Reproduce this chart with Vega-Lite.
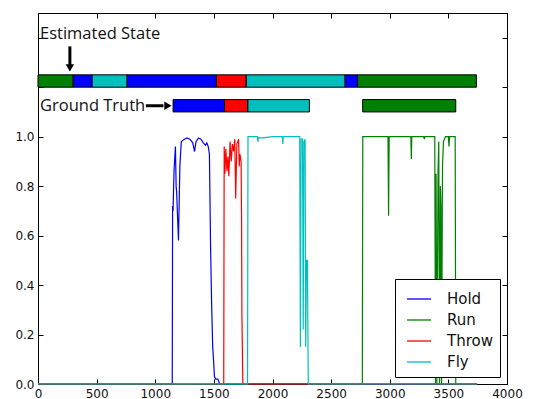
{
  "$schema": "https://vega.github.io/schema/vega-lite/v6.json",
  "width": 469,
  "height": 371,
  "autosize": {"type": "none"},
  "padding": {"left": 38, "top": 13, "right": 26, "bottom": 15},
  "background": "white",
  "config": {
    "view": {"stroke": "black", "strokeWidth": 1},
    "axis": {
      "grid": false,
      "domain": false,
      "title": null,
      "labelFont": "DejaVu Sans",
      "labelFontSize": 12,
      "labelColor": "#111111",
      "tickColor": "black",
      "tickSize": -5,
      "labelOverlap": false,
      "labelFlush": false
    }
  },
  "datasets": {
    "bars": [
      {"row": "Estimated", "state": "Run", "start": 0, "end": 300, "lo": 1.2, "hi": 1.25},
      {"row": "Estimated", "state": "Hold", "start": 300, "end": 462, "lo": 1.2, "hi": 1.25},
      {"row": "Estimated", "state": "Fly", "start": 462, "end": 760, "lo": 1.2, "hi": 1.25},
      {"row": "Estimated", "state": "Hold", "start": 760, "end": 1521, "lo": 1.2, "hi": 1.25},
      {"row": "Estimated", "state": "Throw", "start": 1521, "end": 1776, "lo": 1.2, "hi": 1.25},
      {"row": "Estimated", "state": "Fly", "start": 1776, "end": 2619, "lo": 1.2, "hi": 1.25},
      {"row": "Estimated", "state": "Hold", "start": 2619, "end": 2726, "lo": 1.2, "hi": 1.25},
      {"row": "Estimated", "state": "Run", "start": 2726, "end": 3739, "lo": 1.2, "hi": 1.25},
      {"row": "Ground Truth", "state": "Hold", "start": 1152, "end": 1591, "lo": 1.1, "hi": 1.15},
      {"row": "Ground Truth", "state": "Throw", "start": 1591, "end": 1790, "lo": 1.1, "hi": 1.15},
      {"row": "Ground Truth", "state": "Fly", "start": 1790, "end": 2315, "lo": 1.1, "hi": 1.15},
      {"row": "Ground Truth", "state": "Run", "start": 2769, "end": 3563, "lo": 1.1, "hi": 1.15}
    ],
    "lines": [
      {"state": "Hold", "t": 0, "p": 0},
      {"state": "Hold", "t": 1145, "p": 0},
      {"state": "Hold", "t": 1148, "p": 0.72},
      {"state": "Hold", "t": 1152, "p": 0.7},
      {"state": "Hold", "t": 1160, "p": 0.86},
      {"state": "Hold", "t": 1172, "p": 0.96},
      {"state": "Hold", "t": 1178, "p": 0.8},
      {"state": "Hold", "t": 1182, "p": 0.78},
      {"state": "Hold", "t": 1198, "p": 0.58},
      {"state": "Hold", "t": 1210, "p": 0.88},
      {"state": "Hold", "t": 1222, "p": 0.98},
      {"state": "Hold", "t": 1235, "p": 0.985},
      {"state": "Hold", "t": 1250, "p": 0.99},
      {"state": "Hold", "t": 1270, "p": 0.995},
      {"state": "Hold", "t": 1295, "p": 0.99},
      {"state": "Hold", "t": 1320, "p": 0.975},
      {"state": "Hold", "t": 1335, "p": 0.94},
      {"state": "Hold", "t": 1348, "p": 0.98},
      {"state": "Hold", "t": 1368, "p": 0.995},
      {"state": "Hold", "t": 1390, "p": 0.99},
      {"state": "Hold", "t": 1410, "p": 0.975},
      {"state": "Hold", "t": 1428, "p": 0.965},
      {"state": "Hold", "t": 1440, "p": 0.975},
      {"state": "Hold", "t": 1452, "p": 0.96},
      {"state": "Hold", "t": 1462, "p": 0.93},
      {"state": "Hold", "t": 1472, "p": 0.55},
      {"state": "Hold", "t": 1482, "p": 0.3},
      {"state": "Hold", "t": 1490, "p": 0.15},
      {"state": "Hold", "t": 1493, "p": 0.13},
      {"state": "Hold", "t": 1505, "p": 0.03},
      {"state": "Hold", "t": 1515, "p": 0.02},
      {"state": "Hold", "t": 1534, "p": 0.02},
      {"state": "Hold", "t": 1549, "p": 0},
      {"state": "Hold", "t": 3745, "p": 0},
      {"state": "Run", "t": 0, "p": 0},
      {"state": "Run", "t": 2766, "p": 0},
      {"state": "Run", "t": 2770, "p": 1.0},
      {"state": "Run", "t": 2985, "p": 1.0},
      {"state": "Run", "t": 2990, "p": 0.68},
      {"state": "Run", "t": 2995, "p": 1.0},
      {"state": "Run", "t": 3180, "p": 1.0},
      {"state": "Run", "t": 3184, "p": 0.91},
      {"state": "Run", "t": 3188, "p": 1.0},
      {"state": "Run", "t": 3290, "p": 1.0},
      {"state": "Run", "t": 3295, "p": 0.99},
      {"state": "Run", "t": 3300, "p": 1.0},
      {"state": "Run", "t": 3384, "p": 1.0},
      {"state": "Run", "t": 3390, "p": 0.0},
      {"state": "Run", "t": 3395, "p": 0.85},
      {"state": "Run", "t": 3402, "p": 0.0},
      {"state": "Run", "t": 3412, "p": 0.86},
      {"state": "Run", "t": 3418, "p": 0.98},
      {"state": "Run", "t": 3425, "p": 0.0},
      {"state": "Run", "t": 3432, "p": 0.8},
      {"state": "Run", "t": 3437, "p": 0.72},
      {"state": "Run", "t": 3442, "p": 0.0},
      {"state": "Run", "t": 3450, "p": 0.88},
      {"state": "Run", "t": 3458, "p": 0.98},
      {"state": "Run", "t": 3475, "p": 1.0},
      {"state": "Run", "t": 3500, "p": 1.0},
      {"state": "Run", "t": 3505, "p": 0.96},
      {"state": "Run", "t": 3510, "p": 1.0},
      {"state": "Run", "t": 3558, "p": 1.0},
      {"state": "Run", "t": 3563, "p": 0},
      {"state": "Run", "t": 3745, "p": 0},
      {"state": "Throw", "t": 0, "p": 0},
      {"state": "Throw", "t": 1584, "p": 0},
      {"state": "Throw", "t": 1588, "p": 0.96},
      {"state": "Throw", "t": 1594, "p": 0.85},
      {"state": "Throw", "t": 1602, "p": 0.95},
      {"state": "Throw", "t": 1612, "p": 0.86},
      {"state": "Throw", "t": 1620, "p": 0.92},
      {"state": "Throw", "t": 1628, "p": 0.84},
      {"state": "Throw", "t": 1638, "p": 0.98},
      {"state": "Throw", "t": 1648, "p": 0.9},
      {"state": "Throw", "t": 1658, "p": 0.97},
      {"state": "Throw", "t": 1668, "p": 0.94},
      {"state": "Throw", "t": 1678, "p": 0.99},
      {"state": "Throw", "t": 1686, "p": 0.75},
      {"state": "Throw", "t": 1696, "p": 0.97},
      {"state": "Throw", "t": 1711, "p": 0.99},
      {"state": "Throw", "t": 1716, "p": 0.88},
      {"state": "Throw", "t": 1722, "p": 0.93},
      {"state": "Throw", "t": 1732, "p": 0.9},
      {"state": "Throw", "t": 1736, "p": 0.67},
      {"state": "Throw", "t": 1739, "p": 0.28},
      {"state": "Throw", "t": 1747, "p": 0},
      {"state": "Throw", "t": 3745, "p": 0},
      {"state": "Fly", "t": 0, "p": 0},
      {"state": "Fly", "t": 1787, "p": 0},
      {"state": "Fly", "t": 1791, "p": 1.0},
      {"state": "Fly", "t": 1870, "p": 1.0},
      {"state": "Fly", "t": 1875, "p": 0.98},
      {"state": "Fly", "t": 1880, "p": 0.995},
      {"state": "Fly", "t": 1920, "p": 0.995},
      {"state": "Fly", "t": 2000, "p": 1.0},
      {"state": "Fly", "t": 2084, "p": 1.0},
      {"state": "Fly", "t": 2088, "p": 0.97},
      {"state": "Fly", "t": 2092, "p": 1.0},
      {"state": "Fly", "t": 2232, "p": 1.0},
      {"state": "Fly", "t": 2238, "p": 0.15},
      {"state": "Fly", "t": 2244, "p": 0.99},
      {"state": "Fly", "t": 2256, "p": 0.99},
      {"state": "Fly", "t": 2262, "p": 0.22},
      {"state": "Fly", "t": 2268, "p": 0.98},
      {"state": "Fly", "t": 2278, "p": 0.99},
      {"state": "Fly", "t": 2283, "p": 0.15},
      {"state": "Fly", "t": 2290, "p": 0.5},
      {"state": "Fly", "t": 2298, "p": 0.5},
      {"state": "Fly", "t": 2305, "p": 0},
      {"state": "Fly", "t": 3745, "p": 0}
    ],
    "labels": [
      {"label": "Estimated State", "t": 0, "p": 1.417},
      {"label": "Ground Truth", "t": 0, "p": 1.122}
    ],
    "arrowShafts": [
      {"arrow": "down", "t": 272, "p": 1.365, "t2": 272, "p2": 1.29},
      {"arrow": "right", "t": 920, "p": 1.125, "t2": 1070, "p2": 1.125}
    ],
    "arrowHeads": [
      {"arrow": "down", "t": 272, "p": 1.278, "shape": "triangle-down"},
      {"arrow": "right", "t": 1108, "p": 1.125, "shape": "triangle-right"}
    ]
  },
  "resolve": {"axis": {"x": "independent", "y": "independent"}},
  "layer": [
    {
      "data": {"name": "bars"},
      "mark": {"type": "rect", "stroke": "black", "strokeWidth": 1},
      "encoding": {
        "x": {"field": "start", "type": "quantitative", "scale": {"domain": [0, 4000], "nice": false, "zero": false},
              "axis": {"orient": "bottom", "values": [0, 500, 1000, 1500, 2000, 2500, 3000, 3500, 4000], "labelPadding": 9, "format": "d"}},
        "x2": {"field": "end"},
        "y": {"field": "lo", "type": "quantitative", "scale": {"domain": [0, 1.5], "nice": false, "zero": false},
              "axis": {"orient": "left", "values": [0, 0.2, 0.4, 0.6, 0.8, 1.0, 1.2, 1.4], "labelPadding": 9,
                       "labelExpr": "datum.value <= 1.0001 ? format(datum.value, '.1f') : ''"}},
        "y2": {"field": "hi"},
        "fill": {"field": "state", "type": "nominal",
                 "scale": {"domain": ["Fly", "Hold", "Run", "Throw"], "range": ["#00bfbf", "#0000ff", "#008000", "#ff0000"]},
                 "legend": null}
      }
    },
    {
      "data": {"name": "lines"},
      "mark": {"type": "line", "strokeWidth": 1.2, "interpolate": "linear"},
      "encoding": {
        "x": {"field": "t", "type": "quantitative", "axis": null},
        "y": {"field": "p", "type": "quantitative", "axis": null},
        "color": {"field": "state", "type": "nominal",
                  "scale": {"domain": ["Hold", "Run", "Throw", "Fly"], "range": ["#0000ff", "#008000", "#ff0000", "#00bfbf"]},
                  "legend": {
                    "title": null,
                    "orient": "bottom-right",
                    "offset": 7,
                    "fillColor": "white",
                    "strokeColor": "black",
                    "padding": 7,
                    "cornerRadius": 0,
                    "symbolType": "stroke",
                    "symbolSize": 576,
                    "symbolStrokeWidth": 1.3,
                    "symbolOffset": 4,
                    "labelFont": "DejaVu Sans",
                    "labelFontSize": 15,
                    "labelColor": "#111111",
                    "labelOffset": 15,
                    "rowPadding": -1.5
                  }},
        "order": {"field": "t", "type": "quantitative"}
      }
    },
    {
      "data": {"name": "labels"},
      "mark": {"type": "text", "align": "left", "baseline": "middle", "dx": 2, "font": "Open Sans", "fontSize": 16.5, "color": "#111111"},
      "encoding": {
        "x": {"field": "t", "type": "quantitative",
              "axis": {"orient": "top", "labels": false, "values": [0, 500, 1000, 1500, 2000, 2500, 3000, 3500, 4000]}},
        "y": {"field": "p", "type": "quantitative",
              "axis": {"orient": "right", "labels": false, "values": [0, 0.2, 0.4, 0.6, 0.8, 1.0, 1.2, 1.4]}},
        "text": {"field": "label"}
      }
    },
    {
      "data": {"name": "arrowShafts"},
      "mark": {"type": "rule", "color": "black", "strokeWidth": 3},
      "encoding": {
        "x": {"field": "t", "type": "quantitative", "axis": null},
        "y": {"field": "p", "type": "quantitative", "axis": null},
        "x2": {"field": "t2"},
        "y2": {"field": "p2"}
      }
    },
    {
      "data": {"name": "arrowHeads"},
      "mark": {"type": "point", "filled": true, "color": "black", "opacity": 1, "size": 70},
      "encoding": {
        "x": {"field": "t", "type": "quantitative", "axis": null},
        "y": {"field": "p", "type": "quantitative", "axis": null},
        "shape": {"field": "shape", "type": "nominal", "scale": null}
      }
    }
  ]
}
